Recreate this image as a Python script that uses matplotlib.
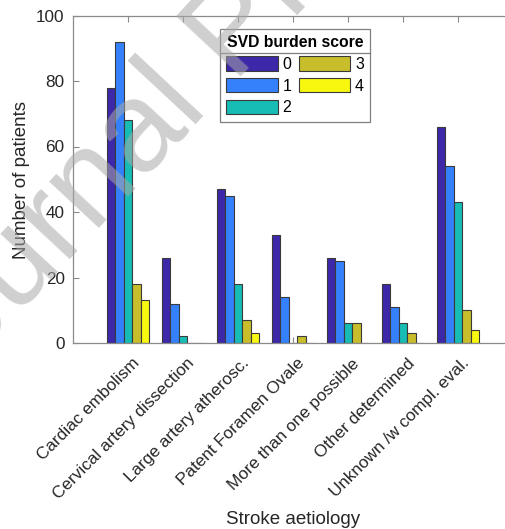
import matplotlib
matplotlib.use("Agg")
import matplotlib.pyplot as plt
import numpy as np
from matplotlib.transforms import ScaledTranslation
from matplotlib.lines import Line2D

plt.rcParams['font.family'] = ['Liberation Sans', 'DejaVu Sans']

categories = ["Cardiac embolism", "Cervical artery dissection", "Large artery atherosc.",
              "Patent Foramen Ovale", "More than one possible", "Other determined",
              "Unknown /w compl. eval."]
score_labels = ["0", "1", "2", "3", "4"]
score0 = [78, 26, 47, 33, 26, 18, 66]
score1 = [92, 12, 45, 14, 25, 11, 54]
score2 = [68, 2, 18, 0, 6, 6, 43]
score3 = [18, 0, 7, 2, 6, 3, 10]
score4 = [13, 0, 3, 0, 0, 0, 4]
series = [score0, score1, score2, score3, score4]
colors = ['#3D28A9', '#3581FB', '#17BCB5', '#C8BE2B', '#F8F710']

W, H = 505, 529
fig = plt.figure(figsize=(W / 100, H / 100), dpi=100)
ax = fig.add_axes([73 / W, 1 - 343 / H, (513 - 73) / W, (343 - 15.5) / H])

x = np.arange(1, len(categories) + 1)
bw = (5 / 6.5) / 5
handles = []
for i, (vals, c) in enumerate(zip(series, colors)):
    h = ax.bar(x + (i - 2) * bw, vals, width=bw, color=c, edgecolor='#3a3a3a',
               linewidth=0.8, label=score_labels[i], zorder=2)
    handles.append(h)

ax.set_xlim(0, 8)
ax.set_ylim(0, 100)
ax.set_yticks([0, 20, 40, 60, 80, 100])
ax.set_xticks(x)
ax.set_xticklabels([])
axcol = '#8a8a8a'
for s in ['left', 'bottom', 'top', 'right']:
    ax.spines[s].set_color(axcol)
    ax.spines[s].set_linewidth(0.9)
    ax.spines[s].set_zorder(3)
ax.tick_params(axis='both', direction='in', length=4, color=axcol, width=0.8,
               top=True, right=True, labelsize=12.3, labelcolor='#262626')
ax.tick_params(axis='y', pad=6)

# rotated x tick labels
off = ScaledTranslation(9 / 100, -18 / 100, fig.dpi_scale_trans)
for xi, lab in zip(x, categories):
    ax.text(xi, 0, lab, rotation=45, rotation_mode='anchor', ha='right', va='center',
            fontsize=12.3, color='#262626',
            transform=ax.get_xaxis_transform() + off)

fig.text(293 / W, 1 - 519 / H, "Stroke aetiology", ha='center', va='center',
         fontsize=13.5, color='#262626')
fig.text(22 / W, 1 - 180 / H, "Number of patients", ha='center', va='center',
         rotation=90, fontsize=13.5, color='#262626')

leg = ax.legend(handles=handles, ncol=2, title="SVD burden score",
                loc='upper left', bbox_to_anchor=(220 / W, 1 - 29 / H),
                bbox_transform=fig.transFigure,
                fontsize=11.5, title_fontsize=11.3, frameon=True, fancybox=False,
                edgecolor='#7f7f7f', framealpha=1, borderpad=0.4,
                handlelength=3.2, handleheight=1.0, handletextpad=0.3,
                columnspacing=0.5, labelspacing=0.38, borderaxespad=0)
leg.get_title().set_fontweight('bold')
leg.get_frame().set_linewidth(0.9)
leg.set_zorder(5)

fig.canvas.draw()
r = fig.canvas.get_renderer()
lb = leg.get_window_extent(r)
tb = leg.get_title().get_window_extent(r)
ysep = tb.y0 - 3
fig.add_artist(Line2D([lb.x0 / W, lb.x1 / W], [ysep / H, ysep / H], color='#7f7f7f',
                      linewidth=0.9, transform=fig.transFigure, zorder=6))

# watermark
fig.text(-76 / W, 1 - 416 / H, "Journal Pre-proof", rotation=47, rotation_mode='anchor',
         ha='left', va='baseline', fontsize=92, color='#a8a8a8', alpha=0.55, zorder=10)

fig.savefig("out.png", dpi=100)
